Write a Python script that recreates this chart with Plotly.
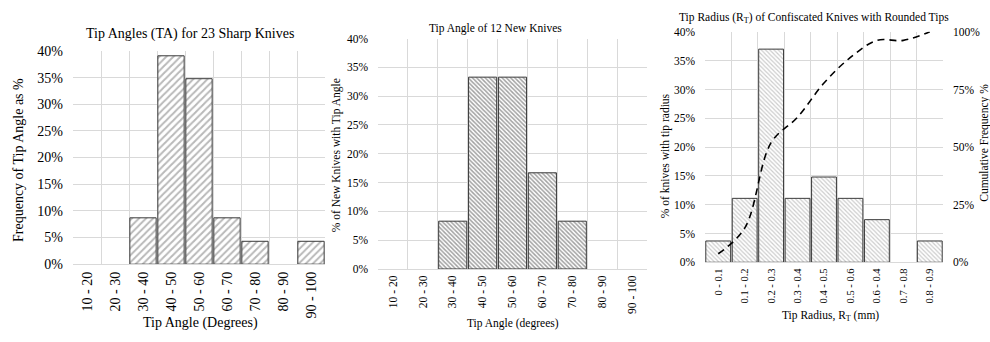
import plotly.graph_objects as go

# ---- data -------------------------------------------------------------
angle_bins = ["10 - 20", "20 - 30", "30 - 40", "40 - 50", "50 - 60",
              "60 - 70", "70 - 80", "80 - 90", "90 - 100"]
sharp_pct = [0, 0, 8.7, 39.1, 34.8, 8.7, 4.3, 0, 4.3]        # 23 sharp knives
new_pct = [0, 0, 8.3, 33.3, 33.3, 16.7, 8.3, 0, 0]           # 12 new knives

radius_bins = ["0 - 0.1", "0.1 - 0.2", "0.2 - 0.3", "0.3 - 0.4", "0.4 - 0.5",
               "0.5 - 0.6", "0.6 - 0.4", "0.7 - 0.8", "0.8 - 0.9"]
radius_pct = [3.7, 11.1, 37.0, 11.1, 14.8, 11.1, 7.4, 0, 3.7]
radius_cum = [3.7, 14.8, 51.9, 63.0, 77.8, 88.9, 96.3, 96.3, 100]

# ---- styling ----------------------------------------------------------
W, H = 990, 342
SERIF = "Liberation Serif, Times New Roman, serif"
GRID = "#d9d9d9"
EDGE = "#3a3a3a"


def px(x):
    return x / W


def py(y):
    return 1 - y / H


def outline(values):
    # empty bins get no outline so no flat stroke sits on the baseline
    return [1 if v > 0 else 0 for v in values]


fig = go.Figure()

fig.add_trace(go.Bar(
    x=angle_bins, y=sharp_pct, xaxis="x", yaxis="y",
    marker=dict(color="white", line=dict(color=EDGE, width=outline(sharp_pct)),
                pattern=dict(shape="/", size=5, solidity=0.4,
                             fgcolor="#737373", bgcolor="white")),
))
fig.add_trace(go.Bar(
    x=angle_bins, y=new_pct, xaxis="x2", yaxis="y2",
    marker=dict(color="white", line=dict(color=EDGE, width=outline(new_pct)),
                pattern=dict(shape="\\", size=3, solidity=0.5,
                             fgcolor="#444444", bgcolor="white")),
))
fig.add_trace(go.Bar(
    x=radius_bins, y=radius_pct, xaxis="x3", yaxis="y3",
    marker=dict(color="white", line=dict(color=EDGE, width=outline(radius_pct)),
                pattern=dict(shape="\\", size=3, solidity=0.4,
                             fgcolor="#9a9a9a", bgcolor="white")),
))
fig.add_trace(go.Scatter(
    x=radius_bins, y=radius_cum, xaxis="x3", yaxis="y4",
    mode="lines", line=dict(color="black", width=1.6, dash="7px,5px",
                            shape="spline", smoothing=1.0),
))


def xaxis(domain, anchor, size):
    return dict(domain=domain, anchor=anchor, type="category",
                tickangle=-90, tickson="boundaries", ticks="",
                ticklabelstandoff=1,
                showgrid=True, gridcolor=GRID, gridwidth=1,
                showline=True, linecolor=GRID, linewidth=1,
                tickfont=dict(family=SERIF, size=size, color="black"),
                fixedrange=True)


def yaxis(domain, anchor, size, rng=(0, 40), dtick=5, **kw):
    d = dict(domain=domain, anchor=anchor, range=list(rng), dtick=dtick,
             ticksuffix="%", showgrid=True, gridcolor=GRID, gridwidth=1,
             zeroline=False, ticks="", ticklabelstandoff=9,
             tickfont=dict(family=SERIF, size=size, color="black"),
             fixedrange=True)
    d.update(kw)
    return d


fig.update_layout(
    width=W, height=H, autosize=False,
    margin=dict(l=0, r=0, t=0, b=0),
    paper_bgcolor="white", plot_bgcolor="white",
    showlegend=False, bargap=0.06,
    xaxis=xaxis([px(73), px(325)], "y", 14),
    yaxis=yaxis([py(269), py(46)], "x", 14),
    xaxis2=xaxis([px(378), px(647)], "y2", 11.5),
    yaxis2=yaxis([py(274), py(33)], "x2", 11.5),
    xaxis3=xaxis([px(705), px(943)], "y3", 10.5),
    yaxis3=yaxis([py(267), py(26)], "x3", 11.5),
    yaxis4=yaxis([py(267), py(26)], "x3", 11.5, rng=(0, 100), dtick=25,
                 overlaying="y3", side="right", showgrid=False),
)

annotations = [
    # panel titles
    dict(text="Tip Angles (TA) for 23 Sharp Knives", x=px(190), y=py(28), size=14),
    dict(text="Tip Angle of 12 New Knives", x=px(495), y=py(22), size=11.5),
    dict(text="Tip Radius (R<sub>T</sub>) of Confiscated Knives with Rounded Tips",
         x=px(814), y=py(11), size=11.5),
    # x-axis titles
    dict(text="Tip Angle (Degrees)", x=px(200), y=py(330), size=14),
    dict(text="Tip Angle (degrees)", x=px(513), y=py(331), size=11.5),
    dict(text="Tip Radius, R<sub>T</sub> (mm)", x=px(830), y=py(323), size=11.5),
    # y-axis titles
    dict(text="Frequency of Tip Angle as %", x=px(19), y=py(160), size=14, angle=-90),
    dict(text="% of New Knives with Tip Angle", x=px(336), y=py(155), size=11.5, angle=-90),
    dict(text="% of knives with tip radius", x=px(665), y=py(156), size=11.5, angle=-90),
    dict(text="Cumulative Frequency %", x=px(985), y=py(142), size=11.5, angle=-90),
]
for a in annotations:
    fig.add_annotation(
        text=a["text"], x=a["x"], y=a["y"], xref="paper", yref="paper",
        xanchor="center", yanchor="middle", showarrow=False,
        textangle=a.get("angle", 0),
        font=dict(family=SERIF, size=a["size"], color="black"),
    )

fig.write_html("out.html")
